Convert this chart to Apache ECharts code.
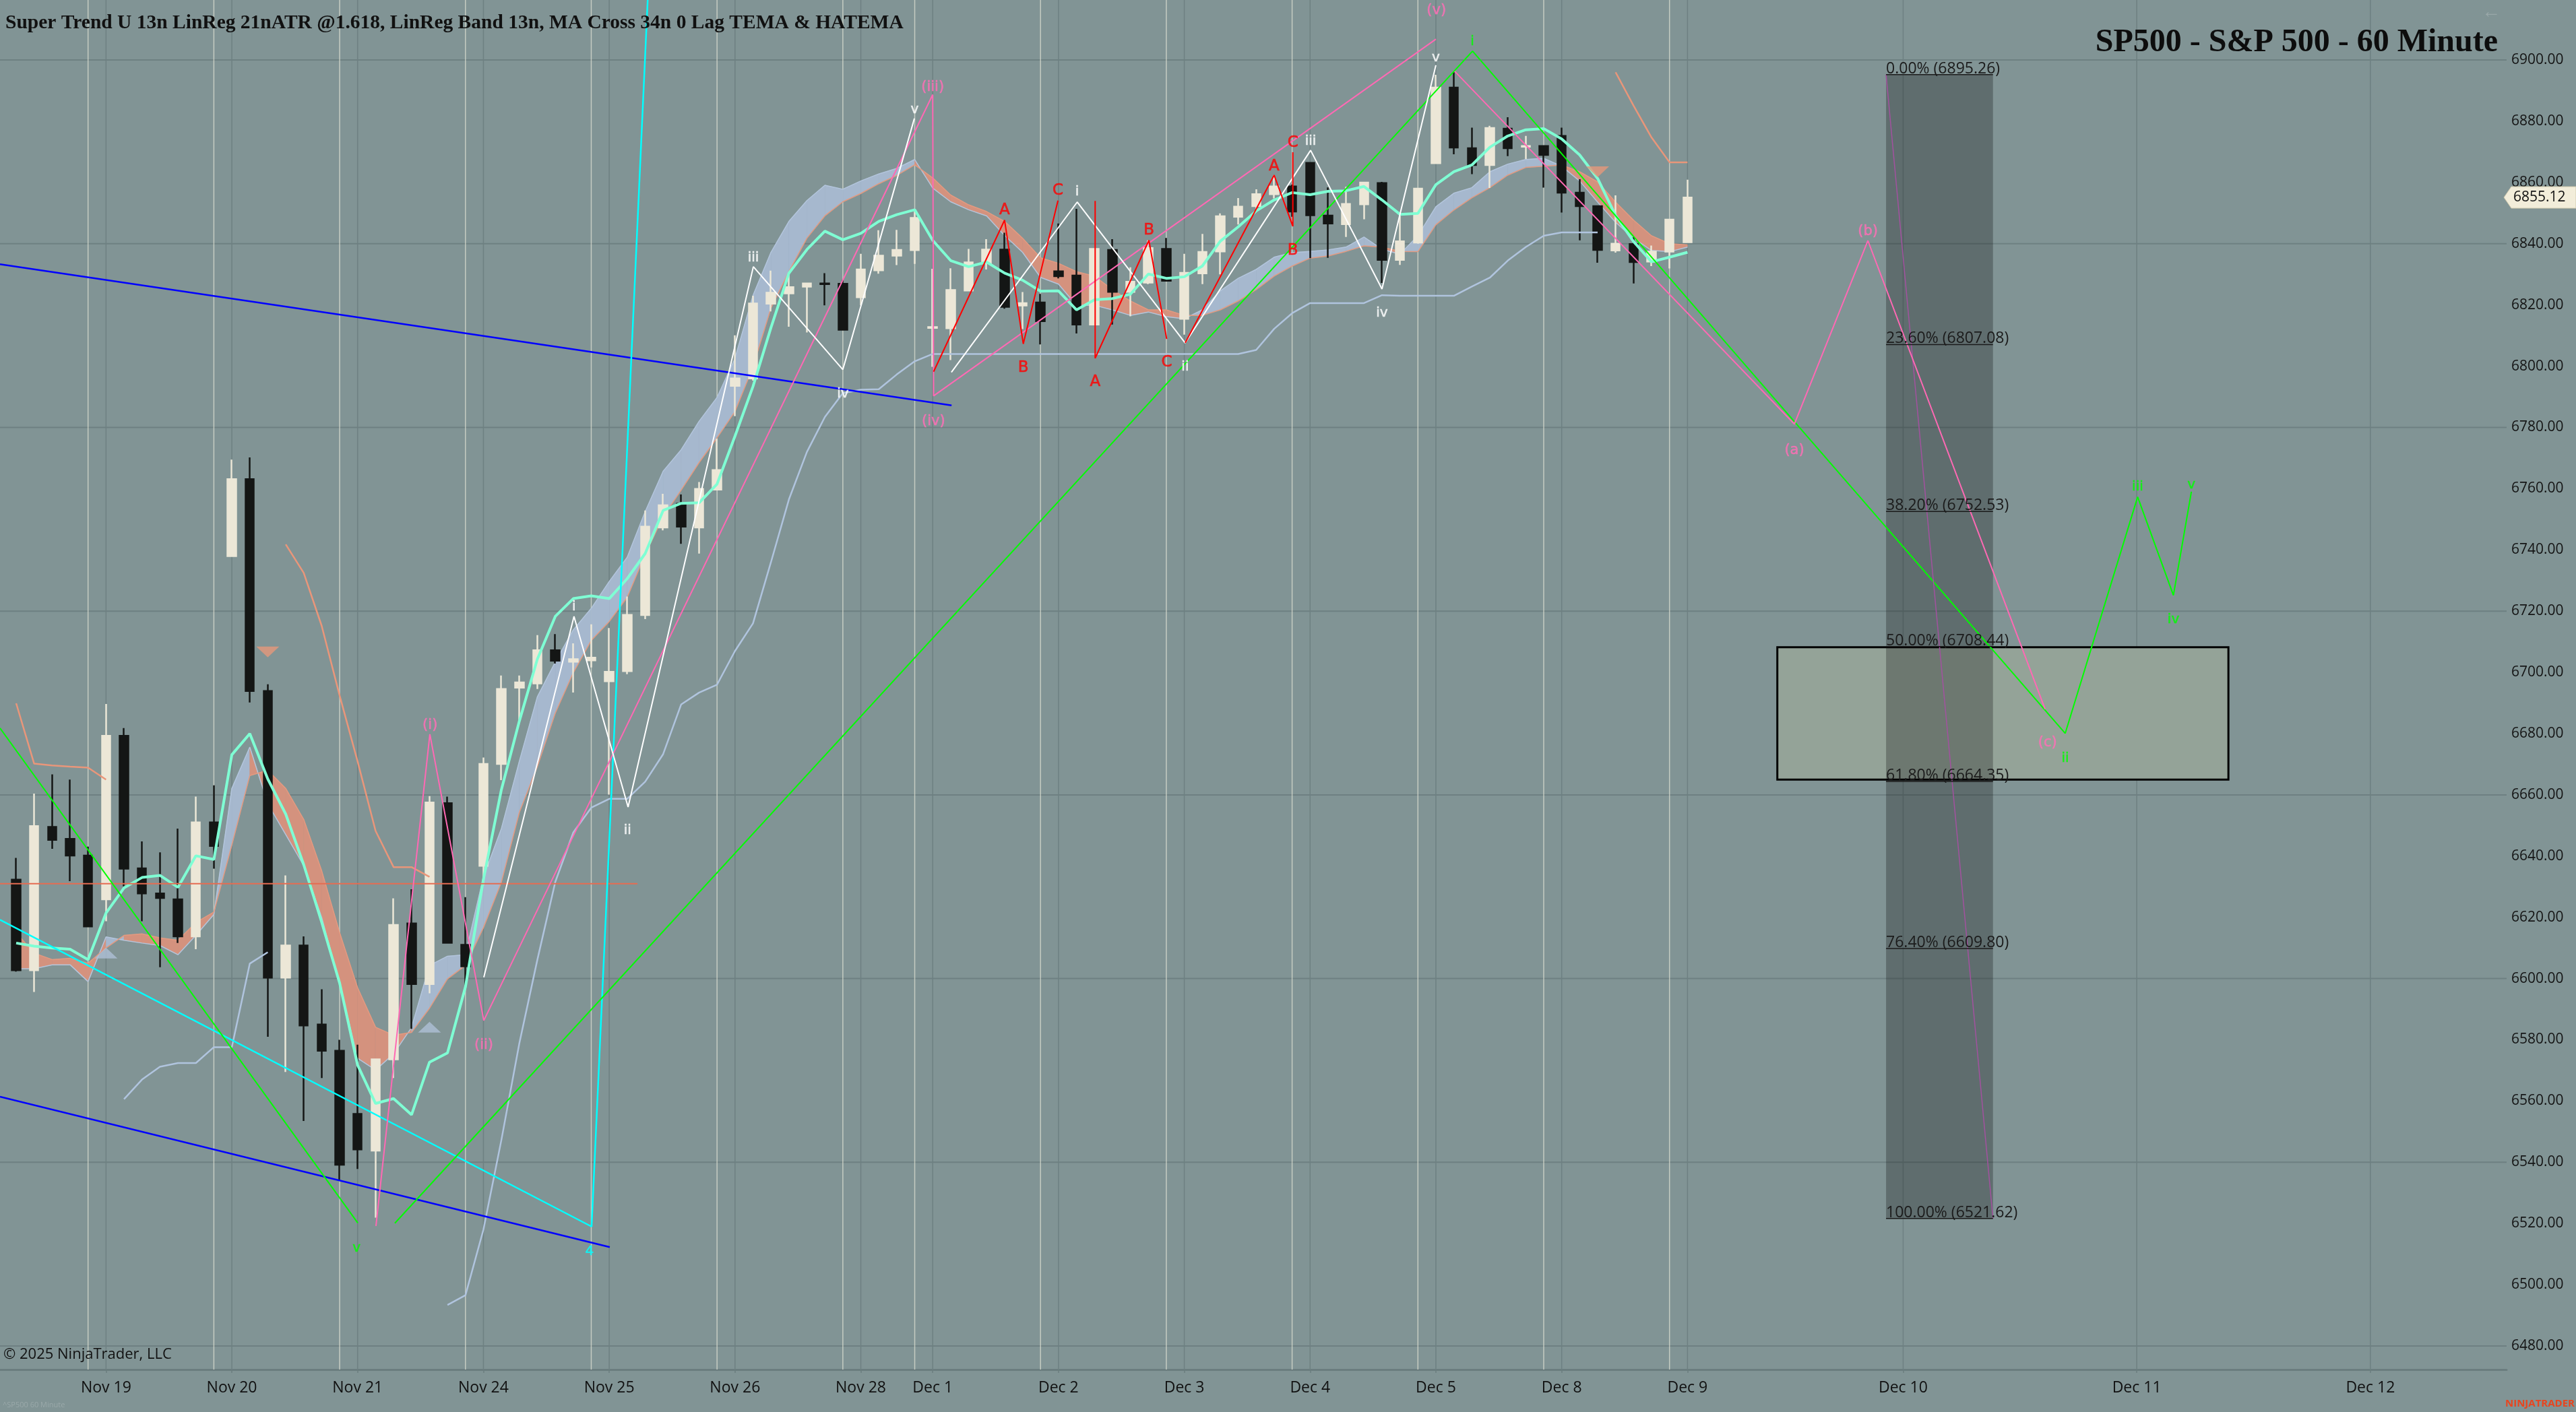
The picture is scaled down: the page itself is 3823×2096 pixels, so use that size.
<!DOCTYPE html>
<html>
<head>
<meta charset="utf-8">
<title>SP500 - S&amp;P 500 - 60 Minute</title>
<script src="https://cdn.jsdelivr.net/npm/echarts@6/dist/echarts.min.js"></script>
<style>
  html, body { margin: 0; padding: 0; background: #819495; }
  #chart { width: 3823px; height: 2096px; }
</style>
</head>
<body>
<div id="chart"></div>
<script>
// ---- axes ----
const X_MIN = -0.9, X_MAX = 138.58;       // bar index range shown
const Y_MIN = 6472.3, Y_MAX = 6919.6;     // price range shown
const dayIdx = [5, 12, 19, 26, 33, 40, 47, 51, 58, 65, 72, 79, 86, 93, 105, 118, 131];
const dayNames = ['Nov 19', 'Nov 20', 'Nov 21', 'Nov 24', 'Nov 25', 'Nov 26', 'Nov 28', 'Dec 1',
  'Dec 2', 'Dec 3', 'Dec 4', 'Dec 5', 'Dec 8', 'Dec 9', 'Dec 10', 'Dec 11', 'Dec 12'];
const sessionIdx = [4, 11, 18, 25, 32, 39, 46, 50, 57, 64, 71, 78, 85, 92];
const gridPrices = [6480, 6540, 6600, 6660, 6720, 6780, 6840, 6900];
const priceTicks = [6480, 6500, 6520, 6540, 6560, 6580, 6600, 6620, 6640, 6660, 6680,
  6700, 6720, 6740, 6760, 6780, 6800, 6820, 6840, 6860, 6880, 6900];

// ---- 60 minute bars, Nov 18 12:00 .. Dec 9 10:00 ----
const opens = [6632.3, 6602.7, 6649.5, 6645.6, 6640.2, 6625.9, 6679.3, 6636.0, 6627.8, 6625.9,
  6613.8, 6651.0, 6738.0, 6763.1, 6693.9, 6600.3, 6610.8, 6585.0, 6576.4, 6555.8,
  6543.8, 6573.6, 6618.0, 6598.2, 6657.3, 6611.0, 6636.8, 6670.1, 6695.0, 6696.4,
  6707.2, 6703.5, 6703.9, 6697.1, 6700.4, 6718.7, 6747.3, 6755.1, 6747.3, 6759.7,
  6793.6, 6796.0, 6820.4, 6823.8, 6826.0, 6827.0, 6826.9, 6822.5, 6831.3, 6836.1,
  6837.9, 6812.5, 6812.4, 6824.7, 6833.6, 6838.1, 6819.8, 6820.8, 6831.0, 6829.6,
  6813.6, 6838.0, 6824.3, 6827.3, 6838.3, 6815.5, 6830.3, 6837.5, 6848.8, 6852.3,
  6856.2, 6858.7, 6866.4, 6849.2, 6846.4, 6852.9, 6859.8, 6834.7, 6840.4, 6866.3,
  6891.0, 6871.2, 6865.7, 6877.6, 6871.7, 6871.9, 6875.2, 6856.7, 6852.3, 6837.8,
  6839.9, 6834.2, 6837.4, 6840.5];
const highs = [6639.4, 6660.4, 6666.7, 6665.0, 6643.1, 6689.7, 6681.8, 6644.8, 6641.2, 6649.0,
  6659.4, 6663.1, 6769.5, 6770.2, 6696.1, 6633.7, 6613.8, 6596.5, 6580.0, 6578.4,
  6573.6, 6626.2, 6629.2, 6659.6, 6659.4, 6626.6, 6672.2, 6699.0, 6699.0, 6712.2,
  6712.5, 6709.5, 6715.7, 6714.5, 6724.8, 6752.9, 6758.3, 6758.1, 6762.2, 6776.3,
  6810.1, 6823.0, 6831.2, 6830.5, 6827.2, 6830.4, 6828.1, 6836.7, 6844.4, 6844.5,
  6850.5, 6831.8, 6832.0, 6838.3, 6841.5, 6843.6, 6824.2, 6823.6, 6846.6, 6851.4,
  6838.3, 6841.5, 6832.3, 6841.1, 6841.9, 6836.7, 6843.2, 6849.9, 6854.9, 6857.8,
  6862.4, 6859.3, 6866.4, 6858.4, 6858.6, 6860.2, 6860.2, 6849.9, 6858.0, 6895.2,
  6896.0, 6877.9, 6878.5, 6881.3, 6875.2, 6871.9, 6877.9, 6861.1, 6852.3, 6855.8,
  6842.2, 6839.4, 6847.9, 6860.9];
const lows = [6602.3, 6595.6, 6642.4, 6631.8, 6617.0, 6618.7, 6630.1, 6618.7, 6603.7, 6611.6,
  6609.6, 6635.9, 6738.0, 6690.2, 6581.0, 6569.5, 6553.5, 6567.5, 6534.2, 6537.8,
  6521.9, 6567.5, 6583.6, 6595.2, 6611.7, 6597.3, 6630.6, 6664.8, 6684.5, 6694.6,
  6702.9, 6693.4, 6701.6, 6660.1, 6699.4, 6717.4, 6746.4, 6742.0, 6738.8, 6759.5,
  6783.7, 6795.3, 6817.9, 6812.9, 6811.0, 6819.9, 6811.9, 6819.9, 6830.2, 6833.0,
  6833.4, 6799.8, 6802.0, 6824.7, 6831.6, 6818.8, 6812.1, 6807.1, 6828.7, 6810.7,
  6813.6, 6813.6, 6816.3, 6826.8, 6827.9, 6810.3, 6826.8, 6830.0, 6846.3, 6851.0,
  6854.8, 6848.8, 6835.3, 6835.4, 6842.2, 6848.0, 6827.2, 6833.1, 6840.0, 6866.3,
  6869.2, 6862.7, 6858.2, 6868.6, 6867.7, 6858.3, 6850.2, 6841.1, 6833.8, 6837.1,
  6827.0, 6832.7, 6831.9, 6840.5];
const closes = [6602.7, 6649.8, 6645.3, 6640.2, 6617.0, 6679.3, 6635.9, 6627.8, 6626.3, 6613.8,
  6651.0, 6643.3, 6763.1, 6693.9, 6600.3, 6610.8, 6584.7, 6576.4, 6539.2, 6544.2,
  6573.6, 6617.5, 6598.2, 6657.5, 6611.7, 6604.0, 6670.1, 6694.6, 6696.7, 6707.2,
  6703.8, 6704.3, 6704.8, 6700.2, 6718.8, 6747.6, 6754.6, 6747.6, 6759.9, 6766.1,
  6796.0, 6820.5, 6824.0, 6825.8, 6827.0, 6826.8, 6811.9, 6831.6, 6836.1, 6838.0,
  6848.4, 6812.8, 6824.9, 6833.9, 6838.1, 6819.4, 6820.6, 6814.7, 6829.4, 6813.6,
  6838.3, 6824.3, 6827.6, 6838.6, 6827.9, 6830.5, 6837.3, 6849.0, 6852.1, 6856.2,
  6858.7, 6850.5, 6849.3, 6846.6, 6853.0, 6860.0, 6834.7, 6840.8, 6858.0, 6891.0,
  6871.4, 6865.7, 6877.8, 6871.2, 6871.9, 6869.0, 6856.7, 6852.3, 6838.0, 6840.0,
  6834.0, 6837.4, 6847.9, 6855.1];
const lastPrice = 6855.12;

// ---- indicators, one value per bar ----
const temaLine = [6611.6, 6610.6, 6610.0, 6609.6, 6606.2, 6621.4, 6629.6, 6633.0, 6633.7, 6629.8,
  6640.1, 6638.9, 6673.1, 6680.0, 6665.2, 6653.7, 6637.2, 6618.4, 6598.5, 6571.7,
  6559.2, 6560.8, 6555.5, 6572.7, 6575.7, 6597.3, 6632.4, 6661.7, 6684.1, 6704.3,
  6718.3, 6724.1, 6725.0, 6724.1, 6730.6, 6738.8, 6752.9, 6755.2, 6755.4, 6761.5,
  6777.2, 6793.4, 6812.6, 6830.4, 6838.1, 6844.1, 6841.3, 6843.4, 6847.3, 6849.5,
  6851.1, 6841.1, 6834.5, 6832.5, 6834.0, 6830.4, 6828.1, 6824.5, 6824.6, 6818.4,
  6821.7, 6822.1, 6823.5, 6830.1, 6828.7, 6829.2, 6832.7, 6840.8, 6845.5, 6850.7,
  6854.3, 6856.7, 6856.0, 6857.1, 6857.3, 6858.7, 6854.3, 6849.6, 6849.9, 6859.3,
  6863.5, 6865.7, 6871.5, 6875.2, 6877.2, 6877.6, 6874.2, 6869.0, 6861.3, 6849.2,
  6840.7, 6834.1, 6835.6, 6837.2];
const crossBlue = [6603.2, 6603.2, 6604.5, 6604.5, 6599.0, 6613.6, 6612.5, 6611.6, 6610.8, 6607.8,
  6614.1, 6620.9, 6662.1, 6675.6, 6657.1, 6647.0, 6636.9, 6620.0, 6598.2, 6574.0,
  6570.1, 6575.4, 6584.0, 6604.3, 6607.3, 6607.8, 6633.2, 6649.0, 6671.0, 6692.0,
  6703.4, 6713.9, 6720.9, 6729.7, 6737.6, 6752.5, 6765.7, 6772.7, 6782.0, 6789.8,
  6802.6, 6823.1, 6837.2, 6847.3, 6854.1, 6859.1, 6857.8, 6860.5, 6862.8, 6864.6,
  6867.5, 6858.2, 6853.7, 6851.1, 6849.1, 6842.7, 6837.2, 6829.0, 6826.8, 6819.9,
  6819.9, 6818.4, 6816.6, 6817.7, 6816.2, 6815.5, 6818.4, 6824.6, 6828.7, 6831.6,
  6835.6, 6837.1, 6837.5, 6838.0, 6838.9, 6842.2, 6838.2, 6836.6, 6842.6, 6852.1,
  6856.5, 6858.3, 6863.5, 6866.0, 6867.5, 6867.9, 6865.3, 6860.5, 6853.6, 6847.0,
  6841.8, 6837.8, 6837.4, 6838.9];
const crossSalmon = [6615.0, 6608.3, 6606.2, 6606.6, 6605.0, 6610.0, 6614.1, 6614.6, 6613.3, 6612.5,
  6618.3, 6621.7, 6643.6, 6666.3, 6668.0, 6662.1, 6652.0, 6635.2, 6615.0, 6597.0,
  6584.1, 6581.5, 6582.4, 6590.3, 6599.9, 6604.3, 6616.6, 6631.5, 6654.3, 6669.2,
  6686.7, 6699.9, 6710.4, 6716.6, 6724.5, 6738.5, 6750.8, 6759.5, 6768.5, 6776.6,
  6785.2, 6799.8, 6819.0, 6830.9, 6841.8, 6849.1, 6853.7, 6856.4, 6859.6, 6862.3,
  6865.8, 6861.5, 6855.9, 6852.7, 6850.5, 6847.3, 6841.8, 6835.4, 6833.6, 6830.9,
  6829.4, 6825.0, 6821.3, 6818.4, 6818.4, 6816.6, 6816.6, 6818.4, 6821.3, 6825.0,
  6829.4, 6832.7, 6835.3, 6836.0, 6837.5, 6839.3, 6838.9, 6837.5, 6837.4, 6846.2,
  6851.0, 6855.0, 6858.3, 6862.4, 6864.9, 6865.3, 6865.7, 6863.5, 6860.2, 6853.6,
  6847.7, 6842.6, 6840.0, 6839.6];
const trendUpper = [6689.9, 6670.2, 6669.6, 6669.2, 6668.9, 6665.0, null, null, null, null,
  null, null, null, null, null, 6741.8, 6732.5, 6715.2, 6692.4, 6670.9,
  6648.2, 6636.4, 6636.4, 6633.2, null, null, null, null, null, null,
  null, null, null, null, null, null, null, null, null, null,
  null, null, null, null, null, null, null, null, null, null,
  null, null, null, null, null, null, null, null, null, null,
  null, null, null, null, null, null, null, null, null, null,
  null, null, null, null, null, null, null, null, null, null,
  null, null, null, null, null, null, null, null, null, 6896.0,
  6885.1, 6874.7, 6866.6, 6866.6];
const trendLower = [null, null, null, null, null, null, 6560.6, 6567.0, 6571.2, 6572.4,
  6572.4, 6577.6, 6577.6, 6604.9, 6608.6, null, null, null, null, null,
  null, null, null, null, 6493.4, 6496.6, 6518.0, 6547.3, 6578.9, 6606.1,
  6631.6, 6647.7, 6655.8, 6658.7, 6658.7, 6664.3, 6673.3, 6689.5, 6693.4, 6696.0,
  6707.0, 6716.0, 6736.0, 6756.5, 6772.0, 6783.4, 6791.2, 6792.3, 6792.5, 6797.3,
  6801.6, 6804.0, 6804.0, 6804.0, 6804.0, 6804.0, 6804.0, 6804.0, 6804.0, 6804.0,
  6804.0, 6804.0, 6804.0, 6804.0, 6804.0, 6804.0, 6804.0, 6804.0, 6804.0, 6805.3,
  6812.2, 6817.3, 6820.6, 6820.6, 6820.6, 6820.6, 6823.2, 6823.0, 6823.0, 6823.0,
  6823.0, 6826.0, 6828.9, 6834.5, 6838.9, 6842.6, 6843.7, 6843.7, 6843.7, null,
  null, null, null, null];
const sellMarks = [[14, 6706.7], [88, 6863.5]];
const buyMarks = [[5, 6608.3], [23, 6584.1]];

// ---- drawings: [bar index, price] ----
const pinkWave = [[20.02, 6519.2], [23.02, 6679.8], [26.02, 6586.3], [51.0, 6888.7], [51.05, 6790.3], [79.0, 6906.8]];
const pinkAbc = [[80.05, 6896.3], [98.95, 6781.1], [103.04, 6841.0], [112.9, 6688.0]];
const whiteWave1 = [[26.02, 6600.4], [31.04, 6718.3], [34.05, 6656.0], [41.02, 6832.5], [46.0, 6798.9], [49.98, 6880.9]];
const whiteWave2 = [[52.04, 6798.0], [59.04, 6853.6], [65.05, 6807.6], [72.03, 6870.5], [76.0, 6825.2], [79.0, 6898.3]];
const redAbc1 = [[51.05, 6798.2], [55.0, 6847.7], [56.04, 6807.3], [57.97, 6854.1]];
const redAbc2 = [[60.04, 6854.0], [60.04, 6802.6], [63.03, 6841.1], [64.02, 6808.9]];
const redAbc3 = [[65.05, 6807.6], [70.0, 6862.4], [71.04, 6845.7], [71.04, 6869.9]];
const greenWave1 = [[-0.9, 6681.8], [19.01, 6520.2]];
const greenWave2 = [[21.07, 6520.1], [81.04, 6902.9], [114.02, 6680.1], [118.05, 6757.3], [120.04, 6725.2], [121.04, 6759.0]];
const cyanLine = [[-0.9, 6619.2], [32.02, 6519.0], [35.3, 6940.0]];
const blueLine1 = [[-0.9, 6833.3], [52.05, 6787.2]];
const blueLine2 = [[-0.9, 6561.4], [33.03, 6512.3]];
const levelLine = [[-0.9, 6631.0], [34.57, 6631.0]];

// fibonacci retracement
const fibX = [104.05, 110.0];
const fibPct = ['0.00%', '23.60%', '38.20%', '50.00%', '61.80%', '76.40%', '100.00%'];
const fibPrices = [6895.26, 6807.08, 6752.53, 6708.44, 6664.35, 6609.80, 6521.62];
const fibLink = [[104.05, 6895.26], [110.0, 6521.62]];
const zoneBox = [[98.0, 6708.2], [123.1, 6665.0]];

// wave labels: [bar index, price, text]
const pinkLabels = [[23.03, 6682.8, '(i)'], [26.02, 6578.3, '(ii)'], [51.0, 6891.1, '(iii)'], [51.04, 6782.0, '(iv)'],
  [79.03, 6916.2, '(v)'], [98.95, 6772.6, '(a)'], [103.04, 6844.0, '(b)'], [113.04, 6677.1, '(c)']];
const whiteLabels = [[31.04, 6721.3, 'i'], [34.02, 6648.3, 'ii'], [41.02, 6835.4, 'iii'], [46.0, 6790.9, 'iv'],
  [50.0, 6883.7, 'v'], [59.04, 6856.9, 'i'], [65.05, 6799.7, 'ii'], [72.03, 6873.4, 'iii'],
  [76.0, 6817.3, 'iv'], [79.0, 6900.7, 'v']];
const redLabels = [[55.0, 6851.0, 'A'], [56.04, 6799.4, 'B'], [57.97, 6857.3, 'C'], [60.04, 6794.9, 'A'],
  [63.03, 6844.4, 'B'], [64.02, 6801.2, 'C'], [70.0, 6865.3, 'A'], [71.04, 6837.8, 'B'], [71.04, 6873.0, 'C']];
const greenLabels = [[18.94, 6511.9, 'v'], [81.03, 6906.0, 'i'], [114.02, 6671.8, 'ii'], [118.05, 6760.5, 'iii'],
  [120.04, 6717.3, 'iv'], [121.04, 6761.2, 'v']];
const cyanLabels = [[31.9, 6510.8, '4']];

// ---- chart ----
const chart = echarts.init(document.getElementById('chart'));
const LABEL_FONT = '"Open Sans", "Noto Sans", sans-serif';

function seg(api, a, b, stroke, lineWidth) {
  const p1 = api.coord(a);
  const p2 = api.coord(b);
  return { type: 'line', shape: { x1: p1[0], y1: p1[1], x2: p2[0], y2: p2[1] }, style: { stroke, lineWidth } };
}

function verticals(name, idx, color, width) {
  return {
    name, type: 'custom', z: 1, silent: true, clip: true,
    data: idx.map(v => [v, Y_MIN]), encode: { x: 0, y: 1 },
    renderItem: (params, api) => seg(api, [api.value(0), Y_MIN], [api.value(0), Y_MAX], color, width)
  };
}

function poly(name, pts, color, width, z) {
  return { name, type: 'line', data: pts, symbol: 'none', silent: true, z: z || 7,
    lineStyle: { color, width } };
}

function barLine(name, vals, color, width, z) {
  return poly(name, vals.map((v, i) => [i, v === null ? '-' : v]), color, width, z);
}

function labels(name, pts, color, size) {
  return {
    name, type: 'scatter', z: 9, silent: true, symbolSize: 1,
    itemStyle: { color: 'rgba(0,0,0,0)' },
    data: pts.map(p => ({ value: [p[0], p[1]], name: p[2] })),
    label: { show: true, position: 'inside', formatter: '{b}', color, fontSize: size,
      fontFamily: '"DejaVu Sans", sans-serif', textBorderColor: color, textBorderWidth: 0.6 }
  };
}

const option = {
  animation: false,
  backgroundColor: '#819495',
  grid: { left: 0, right: 103, top: 0, bottom: 63 },
  xAxis: {
    type: 'value', min: X_MIN, max: X_MAX,
    splitLine: { show: false },
    axisLine: { show: true, lineStyle: { color: '#6b7d7f', width: 3 } },
    axisTick: { show: true, customValues: dayIdx, length: 5, lineStyle: { color: '#6b7d7f', width: 1.5 } },
    axisLabel: {
      customValues: dayIdx, margin: 16, color: '#111', fontSize: 23, fontFamily: LABEL_FONT,
      formatter: v => dayNames[dayIdx.indexOf(Math.round(v))] || ''
    }
  },
  yAxis: {
    type: 'value', position: 'right', min: Y_MIN, max: Y_MAX, scale: true,
    splitLine: { show: false },
    axisLine: { show: false },
    axisTick: { show: false },
    axisLabel: {
      customValues: priceTicks, margin: 7, color: '#141414', fontSize: 21, fontFamily: LABEL_FONT,
      formatter: v => v.toFixed(2)
    }
  },
  series: [
    // grid
    {
      name: 'hgrid', type: 'custom', z: 1, silent: true, clip: true,
      data: gridPrices.map(p => [X_MIN, p]), encode: { x: 0, y: 1 },
      renderItem: (params, api) => seg(api, [X_MIN, api.value(1)], [X_MAX, api.value(1)], '#6e8082', 2)
    },
    verticals('days', dayIdx, '#6e8082', 1.5),
    verticals('sessions', sessionIdx, 'rgba(226,228,214,0.7)', 1.5),

    // target zone and fib band
    {
      name: 'zone', type: 'custom', z: 2, silent: true, clip: true,
      data: [zoneBox[0]], encode: { x: 0, y: 1 },
      renderItem: (params, api) => {
        const a = api.coord(zoneBox[0]);
        const b = api.coord(zoneBox[1]);
        return { type: 'rect', shape: { x: a[0], y: a[1], width: b[0] - a[0], height: b[1] - a[1] },
          style: { fill: '#94a398', stroke: '#000', lineWidth: 3 } };
      }
    },
    {
      name: 'fibBand', type: 'custom', z: 3, silent: true, clip: true,
      data: [[fibX[0], fibPrices[0]]], encode: { x: 0, y: 1 },
      renderItem: (params, api) => {
        const a = api.coord([fibX[0], fibPrices[0]]);
        const b = api.coord([fibX[1], fibPrices[fibPrices.length - 1]]);
        return { type: 'rect', shape: { x: a[0], y: a[1], width: b[0] - a[0], height: b[1] - a[1] },
          style: { fill: 'rgba(0,0,0,0.26)' } };
      }
    },
    {
      name: 'fibLevels', type: 'custom', z: 8, silent: true, clip: false,
      data: fibPrices.map(p => [fibX[0], p]), encode: { x: 0, y: 1 },
      renderItem: (params, api) => {
        const k = params.dataIndex;
        const a = api.coord([fibX[0], fibPrices[k]]);
        return { type: 'group', children: [
          seg(api, [fibX[0], fibPrices[k]], [fibX[1], fibPrices[k]], '#1b1b1b', 1.5),
          { type: 'text', x: a[0], y: a[1] + 3,
            style: { text: fibPct[k] + ' (' + fibPrices[k].toFixed(2) + ')', fill: '#1b1b1b',
              fontSize: 23, fontFamily: LABEL_FONT, align: 'left', verticalAlign: 'bottom' } }
        ] };
      }
    },

    // MA cross cloud
    {
      name: 'cloud', type: 'custom', z: 4, silent: true, clip: true,
      data: crossBlue.slice(1).map((v, i) => [i, crossBlue[i]]), encode: { x: 0, y: 1 },
      renderItem: (params, api) => {
        const i = params.dataIndex;
        const up = crossBlue[i] + crossBlue[i + 1] >= crossSalmon[i] + crossSalmon[i + 1];
        const pts = [
          api.coord([i, crossBlue[i]]), api.coord([i + 1, crossBlue[i + 1]]),
          api.coord([i + 1, crossSalmon[i + 1]]), api.coord([i, crossSalmon[i]])
        ];
        return { type: 'polygon', shape: { points: pts },
          style: { fill: up ? '#a6b8ce' : '#d4927e', stroke: up ? '#a6b8ce' : '#d4927e', lineWidth: 0.5 } };
      }
    },
    barLine('crossBlue', crossBlue, '#b3c5dc', 1.5, 4),
    barLine('crossSalmon', crossSalmon, '#e39a80', 1.5, 4),

    // candles
    {
      name: 'SP500', type: 'candlestick', z: 5, silent: true, barWidth: 13,
      data: opens.map((o, i) => [i, o, closes[i], lows[i], highs[i]]),
      encode: { x: 0, y: [1, 2, 3, 4] },
      itemStyle: { color: '#ece7d7', color0: '#141615', borderColor: '#ece7d7', borderColor0: '#141615', borderWidth: 2.5 }
    },

    // indicator lines
    barLine('trendUpper', trendUpper, '#e9967a', 2.5, 6),
    barLine('trendLower', trendLower, '#b0c4de', 2.5, 6),
    barLine('tema', temaLine, '#7fffd4', 4, 6),
    {
      name: 'sell', type: 'scatter', z: 6, silent: true, symbol: 'triangle', symbolSize: [34, 16], symbolRotate: 180,
      data: sellMarks, itemStyle: { color: '#e5977a' }
    },
    {
      name: 'buy', type: 'scatter', z: 6, silent: true, symbol: 'triangle', symbolSize: [34, 16],
      data: buyMarks, itemStyle: { color: '#aebfd6' }
    },

    // drawings
    poly('level', levelLine, '#e56c52', 2),
    poly('blue1', blueLine1, '#0000ff', 2.5),
    poly('blue2', blueLine2, '#0000ff', 2.5),
    poly('cyan', cyanLine, '#00ffff', 2.5),
    poly('green1', greenWave1, '#00ff00', 2),
    poly('green2', greenWave2, '#00ff00', 2),
    poly('fibLink', fibLink, '#a2529f', 1.5),
    poly('pinkWave', pinkWave, '#ff69b4', 2),
    poly('pinkAbc', pinkAbc, '#ff69b4', 2),
    poly('white1', whiteWave1, '#ffffff', 2),
    poly('white2', whiteWave2, '#ffffff', 2),
    poly('red1', redAbc1, '#ff0000', 2),
    poly('red2', redAbc2, '#ff0000', 2),
    poly('red3', redAbc3, '#ff0000', 2),

    labels('pinkLabels', pinkLabels, '#ff6eb6', 21),
    labels('whiteLabels', whiteLabels, '#ffffff', 20),
    labels('redLabels', redLabels, '#ff0000', 23),
    labels('greenLabels', greenLabels, '#00ff00', 20),
    labels('cyanLabels', cyanLabels, '#00ffff', 20)
  ],
  graphic: { elements: [
    { id: 'title', type: 'text', left: 8, top: 19, z: 20, silent: true,
      style: { text: 'Super Trend U 13n LinReg 21nATR @1.618, LinReg Band 13n, MA Cross 34n 0 Lag TEMA & HATEMA',
        fill: '#111', fontSize: 29.5, fontWeight: 'bold', fontFamily: '"Liberation Serif", serif' } },
    { id: 'instrument', type: 'text', right: 116, top: 40, z: 20, silent: true,
      style: { text: 'SP500 - S&P 500 - 60 Minute', fill: '#0d0d0d', fontSize: 48, fontWeight: 'bold',
        fontFamily: '"Liberation Serif", serif' } },
    { id: 'arrow', type: 'text', right: 112, top: 4, z: 20, silent: true,
      style: { text: '\u2190', fill: '#99a8a9', fontSize: 28, fontFamily: LABEL_FONT } },
    { id: 'copy', type: 'text', left: 5, top: 2000, z: 20, silent: true,
      style: { text: '\u00a9 2025 NinjaTrader, LLC', fill: '#111', fontSize: 22, fontFamily: LABEL_FONT } },
    { id: 'caption', type: 'text', left: 4, top: 2080, z: 20, silent: true,
      style: { text: '^SP500 60 Minute', fill: '#9aa9aa', fontSize: 11, fontFamily: LABEL_FONT } },
    { id: 'brand', type: 'text', right: 2, top: 2076, z: 20, silent: true,
      style: { text: 'NINJATRADER', fill: '#e8451f', fontSize: 15, fontWeight: 'bold', fontFamily: LABEL_FONT } }
  ] }
};

chart.setOption(option);

// last price marker on the price scale
const yLast = chart.convertToPixel({ yAxisIndex: 0 }, lastPrice);
const xEdge = chart.convertToPixel({ xAxisIndex: 0 }, X_MAX);
chart.setOption({ graphic: { elements: [
  { id: 'lastBox', type: 'polygon', z: 21, silent: true,
    shape: { points: [[xEdge - 4, yLast], [xEdge + 7, yLast - 16], [3823, yLast - 16], [3823, yLast + 16], [xEdge + 7, yLast + 16]] },
    style: { fill: '#f2edda', stroke: '#cfc8ad', lineWidth: 1 } },
  { id: 'lastText', type: 'text', z: 22, silent: true, x: xEdge + 10, y: yLast,
    style: { text: lastPrice.toFixed(2), fill: '#111', fontSize: 21, fontFamily: LABEL_FONT, verticalAlign: 'middle' } }
] } });

window.addEventListener('resize', () => chart.resize());
</script>
</body>
</html>
